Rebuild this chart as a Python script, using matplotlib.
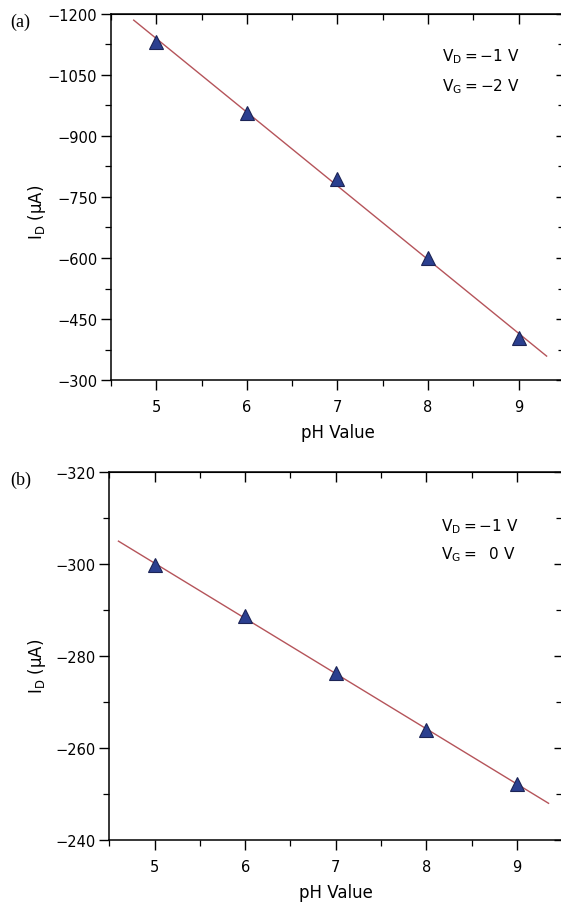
import numpy as np
import matplotlib.pyplot as plt
from matplotlib.ticker import MultipleLocator

plt.rcParams['font.family'] = ['DejaVu Sans']
plt.rcParams['mathtext.fontset'] = 'dejavusans'
plt.rcParams['axes.unicode_minus'] = True

# ============================================================
# Data
# ============================================================
ph = [5, 6, 7, 8, 9]
id_a = [-1131, -957, -794, -600, -404]     # V_D = -1 V, V_G = -2 V
id_b = [-299.8, -288.7, -276.3, -263.9, -252.2]  # V_D = -1 V, V_G = 0 V

fit_range_a = (4.75, 9.31)
fit_range_b = (4.6, 9.35)

LINE_COLOR = '#b5545a'
MARK_FACE = '#2b3f8f'
MARK_EDGE = '#1c2456'

fig = plt.figure(figsize=(5.61, 9.04), dpi=100)


def panel(rect, y, fit_range, ylim, ystep, letter, vd_pos, vg_pos, vg_text,
          ylab_xy):
    ax = fig.add_axes(rect)
    coef = np.polyfit(ph, y, 1)
    xs = np.array(fit_range)
    ax.plot(xs, np.polyval(coef, xs), color=LINE_COLOR, lw=1.0, zorder=2)
    ax.plot(ph, y, ls='none', marker='^', ms=10, mfc=MARK_FACE, mec=MARK_EDGE,
            mew=0.8, zorder=3)
    ax.set_xlim(4.5, 9.5)
    ax.set_ylim(*ylim)
    ax.xaxis.set_major_locator(MultipleLocator(1))
    ax.xaxis.set_minor_locator(MultipleLocator(0.5))
    ax.yaxis.set_major_locator(MultipleLocator(ystep))
    ax.yaxis.set_minor_locator(MultipleLocator(ystep / 2))
    ax.tick_params(which='major', direction='out', length=7, width=1.0,
                   labelsize=10.5)
    ax.tick_params(axis='x', which='major', pad=7)
    ax.tick_params(axis='y', which='major', pad=3)
    ax.tick_params(which='minor', direction='out', length=4, width=0.9)
    for s in ax.spines.values():
        s.set_linewidth(1.1)

    # top and right axes: inward ticks, no labels
    top = ax.secondary_xaxis('top')
    top.xaxis.set_major_locator(MultipleLocator(1))
    top.xaxis.set_minor_locator(MultipleLocator(0.5))
    top.tick_params(which='major', direction='in', length=7, width=1.0,
                    labeltop=False)
    top.tick_params(which='minor', direction='in', length=4, width=0.9)
    right = ax.secondary_yaxis('right')
    right.yaxis.set_major_locator(MultipleLocator(ystep))
    right.yaxis.set_minor_locator(MultipleLocator(ystep / 2))
    right.tick_params(which='major', direction='in', length=6, width=1.0,
                      labelright=False)
    right.tick_params(which='minor', direction='in', length=4, width=0.9)

    ax.set_xlabel('pH Value', fontsize=12, labelpad=6)
    ax.set_ylabel(r'$\mathregular{I_D}$ ($\mathregular{\mu}$A)', fontsize=12)
    ax.yaxis.set_label_coords(*ylab_xy)
    ax.text(0.732, vd_pos, r'$\mathregular{V_D = -1\ V}$', transform=ax.transAxes,
            fontsize=11, ha='left', va='center')
    ax.text(0.732, vg_pos, vg_text, transform=ax.transAxes,
            fontsize=11, ha='left', va='center')
    fig.text(0.018, rect[1] + rect[3] - 0.008, letter, family='Liberation Serif',
             fontsize=13, ha='left', va='center')
    return ax


panel([0.198, 0.5785, 0.807, 0.405], id_a, fit_range_a, (-300, -1200), 150,
      '(a)', 0.885, 0.803, r'$\mathregular{V_G = -2\ V}$', (-0.139, 0.46))
panel([0.195, 0.0697, 0.807, 0.407], id_b, fit_range_b, (-240, -320), 20,
      '(b)', 0.853, 0.777, r'$\mathregular{V_G =\ \ 0\ V}$', (-0.135, 0.475))

plt.savefig('out.png', dpi=100)
